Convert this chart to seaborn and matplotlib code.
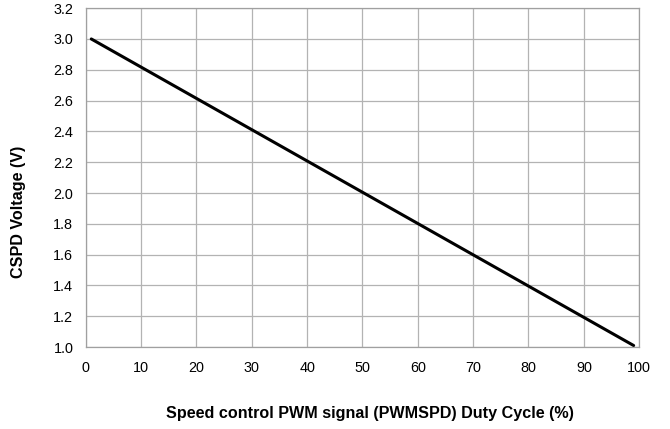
import matplotlib
matplotlib.use("Agg")
import matplotlib.pyplot as plt
import pandas as pd
import seaborn as sns

# Duty cycle (%) vs CSPD voltage (V)
duty_cycle = [1, 99]
cspd_voltage = [3.0, 1.01]
x_ticks = list(range(0, 101, 10))
y_ticks = [1.0, 1.2, 1.4, 1.6, 1.8, 2.0, 2.2, 2.4, 2.6, 2.8, 3.0, 3.2]

sns.set_style("white")
plt.rcParams["font.family"] = ["Liberation Sans", "DejaVu Sans"]

df = pd.DataFrame({"duty": duty_cycle, "volt": cspd_voltage})

fig = plt.figure(figsize=(6.7, 4.29), dpi=100)
ax = fig.add_axes([0.128, 0.191, 0.826, 0.790])
sns.lineplot(data=df, x="duty", y="volt", color="black", linewidth=2.2, ax=ax)

ax.set_xlim(0, 100)
ax.set_ylim(1.0, 3.2)
ax.set_xticks(x_ticks)
ax.set_yticks(y_ticks)
ax.set_yticklabels([f"{v:.1f}" for v in y_ticks])
ax.tick_params(length=0, labelsize=10.4, colors="black")
ax.tick_params(axis="x", pad=10)
ax.tick_params(axis="y", pad=9)
ax.grid(True, color="#b3b3b3", linewidth=0.9)
ax.set_axisbelow(True)
for s in ax.spines.values():
    s.set_visible(True)
    s.set_color("#a0a0a0")
    s.set_linewidth(0.9)

# axis titles sit a bit off-centre in the original, place them by hand
ax.set_xlabel("Speed control PWM signal (PWMSPD) Duty Cycle (%)", fontsize=11.6, fontweight="bold",
              va="center", color="black")
ax.xaxis.set_label_coords(0.514, -0.195)
ax.set_ylabel("CSPD Voltage (V)", fontsize=11.6, fontweight="bold", va="center", ha="center", color="black")
ax.yaxis.set_label_coords(-0.121, 0.398)

fig.savefig("out.png", dpi=100)
